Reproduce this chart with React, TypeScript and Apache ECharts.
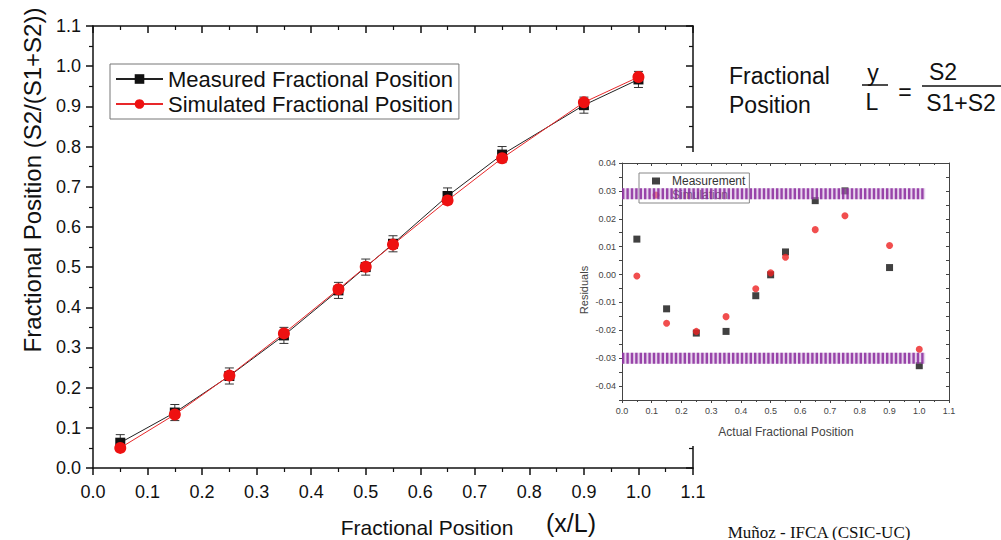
import React, { useEffect, useRef } from "react";
import * as echarts from "echarts";

const positions = [0.05, 0.15, 0.25, 0.35, 0.45, 0.5, 0.55, 0.65, 0.75, 0.9, 1.0];
const measured = [0.063, 0.138, 0.229, 0.33, 0.442, 0.5, 0.558, 0.677, 0.78, 0.903, 0.967];
const simulated = [0.05, 0.133, 0.23, 0.335, 0.445, 0.501, 0.556, 0.666, 0.771, 0.91, 0.973];
const measuredErr = [0.02, 0.02, 0.02, 0.02, 0.02, 0.02, 0.02, 0.02, 0.02, 0.02, 0.02];

const measResidual = [0.0127, -0.0123, -0.021, -0.0204, -0.0076, -0.0001, 0.0081, 0.0265, 0.03, 0.0025, -0.0327];
const simResidual = [-0.0005, -0.0175, -0.0204, -0.0151, -0.0051, 0.0006, 0.0062, 0.0161, 0.0211, 0.0104, -0.0268];
const bandX = [0, 1.02];
const upperLimit = 0.029;
const lowerLimit = -0.03;

const FONT = "Liberation Sans, Arial, sans-serif";

export default function App() {
  const ref = useRef<HTMLDivElement>(null);
  useEffect(() => {
    if (!ref.current) return;
    const chart = echarts.init(ref.current, undefined, { renderer: "svg" });
    const axisLine = { show: true, onZero: false, lineStyle: { color: "#111", width: 1.5 } };
    const insetLine = { show: true, onZero: false, lineStyle: { color: "#444", width: 1 } };
    const pair = (xs: number[], ys: number[]) => xs.map((x, i) => [x, ys[i]]);
    const option: any = {
      animation: false,
      backgroundColor: "#fff",
      textStyle: { fontFamily: FONT },
      grid: [
        { left: 93, right: 308, top: 26, bottom: 72, show: false },
        { left: 622, right: 52, top: 163, bottom: 140, show: false },
      ],
      xAxis: [
        {
          gridIndex: 0, type: "value", min: 0, max: 1.1, interval: 0.1, position: "bottom",
          axisLine, axisTick: { show: true, inside: false, length: 7, lineStyle: { color: "#111", width: 1.5 } },
          minorTick: { show: true, splitNumber: 2, length: 4, lineStyle: { color: "#111", width: 1.2 } },
          axisLabel: { fontSize: 18, color: "#111", margin: 15, formatter: (v: number) => v.toFixed(1) },
          splitLine: { show: false },
        },
        {
          gridIndex: 0, type: "value", min: 0, max: 1.1, interval: 0.1, position: "top",
          axisLine, axisTick: { show: true, inside: true, length: 7, lineStyle: { color: "#111", width: 1.5 } },
          minorTick: { show: true, splitNumber: 2, length: 4, lineStyle: { color: "#111", width: 1.2 } },
          axisLabel: { show: false }, splitLine: { show: false },
        },
        {
          gridIndex: 1, type: "value", min: 0, max: 1.1, interval: 0.1, position: "bottom", z: 10,
          axisLine: insetLine, axisTick: { show: true, inside: false, length: 3, lineStyle: { color: "#444" } },
          minorTick: { show: true, splitNumber: 2, length: 2, lineStyle: { color: "#444" } },
          axisLabel: { fontSize: 9, color: "#444", margin: 6, formatter: (v: number) => v.toFixed(1) },
          splitLine: { show: false },
        },
        {
          gridIndex: 1, type: "value", min: 0, max: 1.1, interval: 0.1, position: "top", z: 10,
          axisLine: insetLine, axisTick: { show: true, inside: true, length: 3, lineStyle: { color: "#444" } },
          minorTick: { show: true, splitNumber: 2, length: 2, lineStyle: { color: "#444" } },
          axisLabel: { show: false }, splitLine: { show: false },
        },
      ],
      yAxis: [
        {
          gridIndex: 0, type: "value", min: 0, max: 1.1, interval: 0.1, position: "left",
          axisLine, axisTick: { show: true, inside: false, length: 7, lineStyle: { color: "#111", width: 1.5 } },
          minorTick: { show: true, splitNumber: 2, length: 4, lineStyle: { color: "#111", width: 1.2 } },
          axisLabel: { fontSize: 18, color: "#111", margin: 12, formatter: (v: number) => v.toFixed(1) },
          splitLine: { show: false },
        },
        {
          gridIndex: 0, type: "value", min: 0, max: 1.1, interval: 0.1, position: "right",
          axisLine, axisTick: { show: true, inside: true, length: 7, lineStyle: { color: "#111", width: 1.5 } },
          minorTick: { show: true, splitNumber: 2, length: 4, lineStyle: { color: "#111", width: 1.2 } },
          axisLabel: { show: false }, splitLine: { show: false },
        },
        {
          gridIndex: 1, type: "value", min: -0.045, max: 0.04, interval: 0.005, position: "left", z: 10,
          axisLine: insetLine, axisTick: { show: true, inside: false, length: 3, lineStyle: { color: "#444" } },
          axisLabel: {
            fontSize: 9, color: "#444", margin: 6,
            formatter: (v: number) => (Math.round(v * 1000) % 10 === 0 ? v.toFixed(2) : ""),
          },
          splitLine: { show: false },
        },
        {
          gridIndex: 1, type: "value", min: -0.045, max: 0.04, interval: 0.005, position: "right", z: 10,
          axisLine: insetLine, axisTick: { show: true, inside: true, length: 3, lineStyle: { color: "#444" } },
          axisLabel: { show: false }, splitLine: { show: false },
        },
      ],
      legend: [
        {
          data: ["Measured Fractional Position", "Simulated Fractional Position"],
          orient: "vertical", left: 110, top: 64, itemWidth: 47, itemHeight: 12, itemGap: 3,
          padding: [4, 6, 4, 5], borderColor: "#777", borderWidth: 1,
          textStyle: { fontSize: 22, color: "#111", fontFamily: FONT },
        },
        {
          data: ["Measurement", "Simulation"],
          orient: "vertical", left: 639, top: 173, itemWidth: 8, itemHeight: 7, itemGap: 2,
          padding: [2, 4, 2, 13], borderColor: "#888", borderWidth: 1, z: 11,
          textStyle: { fontSize: 12, color: "#333", fontFamily: FONT, padding: [0, 0, 0, 7] },
        },
      ],
      graphic: [
        { type: "rect", z: 5, shape: { x: 575, y: 152, width: 426, height: 294 }, style: { fill: "#fff" } },
        {
          type: "text", x: 32, y: 180, rotation: Math.PI / 2,
          style: { text: "Fractional Position (S2/(S1+S2))", fontSize: 24, fill: "#111", fontFamily: FONT, align: "center", verticalAlign: "middle" },
        },
        { type: "text", x: 427, y: 527, style: { text: "Fractional Position", fontSize: 21, fill: "#111", fontFamily: FONT, align: "center", verticalAlign: "middle" } },
        { type: "text", x: 571, y: 523, style: { text: "(x/L)", fontSize: 25, fill: "#111", fontFamily: FONT, align: "center", verticalAlign: "middle" } },
        { type: "text", x: 819, y: 532, style: { text: "Muñoz - IFCA (CSIC-UC)", fontSize: 17, fill: "#111", fontFamily: "Liberation Serif, Times New Roman, serif", align: "center", verticalAlign: "middle" } },
        { type: "text", x: 729, y: 76, style: { text: "Fractional", fontSize: 23, fill: "#111", fontFamily: FONT, align: "left", verticalAlign: "middle" } },
        { type: "text", x: 729, y: 105, style: { text: "Position", fontSize: 23, fill: "#111", fontFamily: FONT, align: "left", verticalAlign: "middle" } },
        { type: "text", x: 873, y: 73, style: { text: "y", fontSize: 23, fill: "#111", fontFamily: FONT, align: "center", verticalAlign: "middle" } },
        { type: "line", shape: { x1: 862, y1: 85, x2: 888, y2: 85 }, style: { stroke: "#111", lineWidth: 1.5 } },
        { type: "text", x: 872, y: 102, style: { text: "L", fontSize: 23, fill: "#111", fontFamily: FONT, align: "center", verticalAlign: "middle" } },
        { type: "text", x: 905, y: 92, style: { text: "=", fontSize: 23, fill: "#111", fontFamily: FONT, align: "center", verticalAlign: "middle" } },
        { type: "text", x: 943, y: 72, style: { text: "S2", fontSize: 23, fill: "#111", fontFamily: FONT, align: "center", verticalAlign: "middle" } },
        { type: "line", shape: { x1: 922, y1: 86, x2: 1001, y2: 86 }, style: { stroke: "#111", lineWidth: 1.5 } },
        { type: "text", x: 961, y: 103, style: { text: "S1+S2", fontSize: 23, fill: "#111", fontFamily: FONT, align: "center", verticalAlign: "middle" } },
        { type: "text", x: 584, y: 290, rotation: Math.PI / 2, z: 10, style: { text: "Residuals", fontSize: 11, fill: "#444", fontFamily: FONT, align: "center", verticalAlign: "middle" } },
        { type: "text", x: 786, y: 432, z: 10, style: { text: "Actual Fractional Position", fontSize: 12, fill: "#444", fontFamily: FONT, align: "center", verticalAlign: "middle" } },
      ],
      series: [
        {
          type: "custom", name: "errors", xAxisIndex: 0, yAxisIndex: 0, z: 3,
          data: positions.map((x, i) => [x, measured[i], measuredErr[i]]),
          encode: { x: 0, y: 1 },
          renderItem: (params: any, api: any) => {
            const x = api.value(0), y = api.value(1), e = api.value(2);
            const t = api.coord([x, y + e]);
            const b = api.coord([x, y - e]);
            const hw = 4.5;
            const st = { stroke: "#333", lineWidth: 1 };
            return {
              type: "group",
              children: [
                { type: "line", shape: { x1: t[0], y1: t[1], x2: b[0], y2: b[1] }, style: st },
                { type: "line", shape: { x1: t[0] - hw, y1: t[1], x2: t[0] + hw, y2: t[1] }, style: st },
                { type: "line", shape: { x1: b[0] - hw, y1: b[1], x2: b[0] + hw, y2: b[1] }, style: st },
              ],
            };
          },
        },
        {
          type: "line", name: "Measured Fractional Position", xAxisIndex: 0, yAxisIndex: 0, z: 3,
          data: pair(positions, measured), symbol: "rect", symbolSize: 10,
          lineStyle: { color: "#222", width: 1 }, itemStyle: { color: "#111" },
        },
        {
          type: "line", name: "Simulated Fractional Position", xAxisIndex: 0, yAxisIndex: 0, z: 4,
          data: pair(positions, simulated), symbol: "circle", symbolSize: 12,
          lineStyle: { color: "#e8282a", width: 1 }, itemStyle: { color: "#ee1111" },
        },
        {
          type: "scatter", name: "Measurement", xAxisIndex: 2, yAxisIndex: 2, z: 11,
          data: pair(positions, measResidual), symbol: "rect", symbolSize: 7, itemStyle: { color: "#111" },
        },
        {
          type: "scatter", name: "Simulation", xAxisIndex: 2, yAxisIndex: 2, z: 11,
          data: pair(positions, simResidual), symbol: "circle", symbolSize: 7, itemStyle: { color: "#ee2222" },
        },
        ...[upperLimit, lowerLimit].flatMap((lv) => [
          {
            type: "line", xAxisIndex: 2, yAxisIndex: 2, z: 12, symbol: "none", silent: true,
            data: bandX.map((x) => [x, lv]),
            lineStyle: { color: "#c9a0d6", opacity: 0.45, width: 11, cap: "butt" },
          },
          {
            type: "line", xAxisIndex: 2, yAxisIndex: 2, z: 12, symbol: "none", silent: true,
            data: bandX.map((x) => [x, lv]),
            lineStyle: { color: "#8a2a9c", opacity: 0.85, width: 11, type: [2.4, 2], cap: "butt" },
          },
        ]),
      ],
    };
    chart.setOption(option);
    return () => chart.dispose();
  }, []);
  return <div ref={ref} style={{ position: "absolute", left: 0, top: 0, width: 1001, height: 540 }} />;
}
